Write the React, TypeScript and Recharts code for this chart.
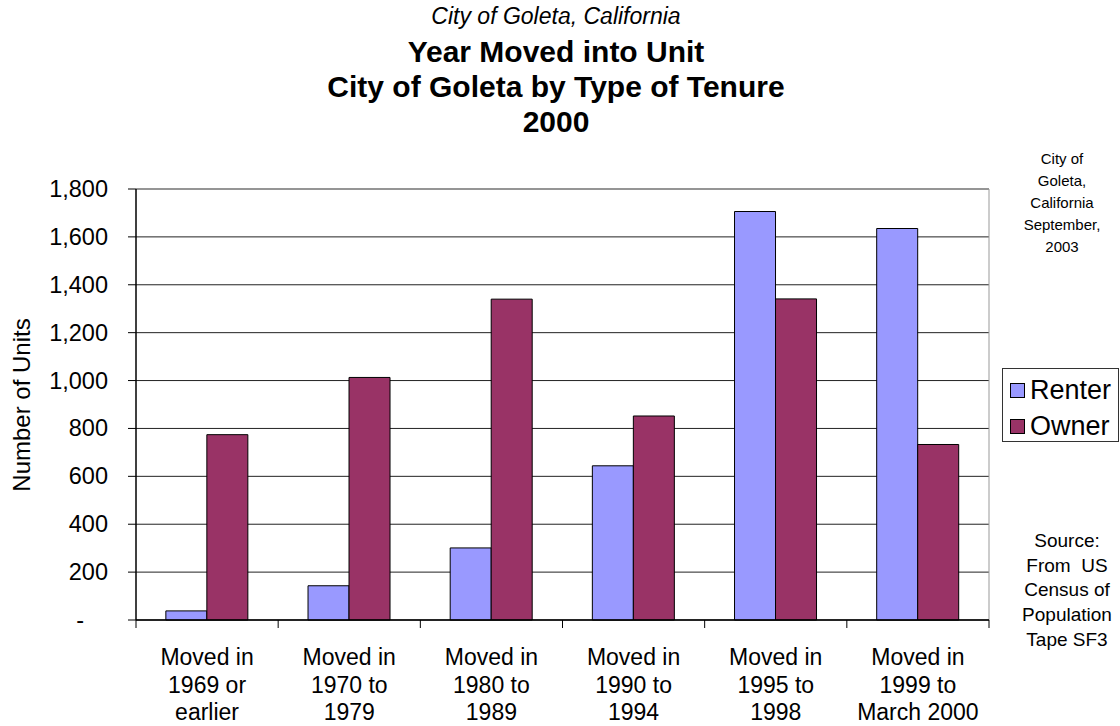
import React from 'react';
import { BarChart, Bar, XAxis, YAxis, CartesianGrid } from 'recharts';

const categories = [
  'Moved in|1969 or|earlier',
  'Moved in|1970 to|1979',
  'Moved in|1980 to|1989',
  'Moved in|1990 to|1994',
  'Moved in|1995 to|1998',
  'Moved in|1999 to|March 2000',
];
const renter = [38, 143, 301, 644, 1706, 1635];
const owner = [774, 1013, 1340, 852, 1341, 733];
const yTicks = [0, 200, 400, 600, 800, 1000, 1200, 1400, 1600, 1800];

const data = categories.map((name, i) => ({ name, Renter: renter[i], Owner: owner[i] }));

const FONT = '"Liberation Sans", Arial, sans-serif';
const RENTER = '#9999ff';
const OWNER = '#993366';

// y labels sit 28px left of the axis; tick mark drawn from the label anchor side
const YTick = ({ x, y, payload }: any) => {
  const v = payload.value as number;
  return (
    <g>
      <line x1={x + 20} x2={x + 28} y1={y} y2={y} stroke="#000" />
      <text x={v === 0 ? x - 24 : x} y={y} dy={8} textAnchor="end" fontFamily={FONT} fontSize={23.5} fill="#000">
        {v === 0 ? '-' : v.toLocaleString('en-US')}
      </text>
    </g>
  );
};

// category labels + tick marks at the category boundaries
const CatTick = ({ x, y, width, payload, index, visibleTicksCount }: any) => {
  const lines = String(payload.value).split('|');
  const band = width && visibleTicksCount ? width / visibleTicksCount : (payload.offset || 0) * 2;
  const left = x - band / 2;
  return (
    <g>
      <line x1={left} x2={left} y1={y} y2={y + 8} stroke="#000" />
      {index === visibleTicksCount - 1 && (
        <line x1={left + band} x2={left + band} y1={y} y2={y + 8} stroke="#000" />
      )}
      <text x={x} y={y} textAnchor="middle" fontFamily={FONT} fontSize={23} fill="#000">
        {lines.map((l, i) => (
          <tspan key={i} x={x} dy={i === 0 ? 45 : 27.5}>{l}</tspan>
        ))}
      </text>
    </g>
  );
};

const LegendBox = () => (
  <div style={{
    position: 'absolute', left: 1002, top: 368,
    border: '1px solid #333', background: '#fff', width: 117, height: 74, boxSizing: 'border-box',
    fontFamily: FONT, fontSize: 27, lineHeight: '36px', padding: '3px 0 0 7px',
  }}>
    {[['Renter', RENTER], ['Owner', OWNER]].map(([n, c]) => (
      <div key={n} style={{ display: 'flex', alignItems: 'center' }}>
        <span style={{ display: 'inline-block', width: 13, height: 13, background: c, border: '1.5px solid #000', marginRight: 5 }} />
        <span>{n}</span>
      </div>
    ))}
  </div>
);

export default function App() {
  return (
    <div style={{ position: 'relative', width: 1120, height: 726, background: '#fff', fontFamily: FONT }}>
      <style>{'body{margin:0}'}</style>
      <div style={{ position: 'absolute', left: 0, width: 1112, top: 3, textAlign: 'center', fontStyle: 'italic', fontSize: 23 }}>
        City of Goleta, California
      </div>
      <div style={{ position: 'absolute', left: 0, width: 1112, top: 34, textAlign: 'center', fontWeight: 'bold', fontSize: 30, lineHeight: '35px' }}>
        Year Moved into Unit<br />City of Goleta by Type of Tenure<br />2000
      </div>
      <div style={{ position: 'absolute', left: 1012, width: 100, top: 148, textAlign: 'center', fontSize: 15, lineHeight: '22px' }}>
        City of<br />Goleta,<br />California<br />September,<br />2003
      </div>
      <div style={{ position: 'absolute', left: 1012, width: 110, top: 529, textAlign: 'center', fontSize: 19, lineHeight: '24.7px' }}>
        Source:<br />From&nbsp; US<br />Census of<br />Population<br />Tape SF3
      </div>
      <div style={{
        position: 'absolute', left: 22, top: 405, transform: 'translate(-50%, -50%) rotate(-90deg)',
        whiteSpace: 'nowrap', fontSize: 24,
      }}>
        Number of Units
      </div>
      <BarChart
        width={1120}
        height={726}
        data={data}
        margin={{ top: 189, right: 131, bottom: 0, left: 0 }}
        barCategoryGap="21%"
        barGap={0}
        style={{ position: 'absolute', left: 0, top: 0 }}
      >
        <CartesianGrid vertical={false} stroke="#222" />
        <CartesianGrid
          stroke="#999"
          horizontalCoordinatesGenerator={({ offset }: any) => [offset.top]}
          verticalCoordinatesGenerator={({ offset }: any) => [offset.left + offset.width]}
        />
        <XAxis
          dataKey="name"
          height={106}
          interval={0}
          tick={<CatTick />}
          tickLine={false}
          tickSize={0}
          tickMargin={0}
          axisLine={{ stroke: '#000', strokeWidth: 1.5 }}
        />
        <YAxis
          width={136}
          domain={[0, 1800]}
          ticks={yTicks}
          interval={0}
          tick={<YTick />}
          tickLine={false}
          tickSize={0}
          tickMargin={28}
          axisLine={{ stroke: '#000', strokeWidth: 1.5 }}
        />
        <Bar dataKey="Renter" fill={RENTER} stroke="#000" strokeWidth={1} isAnimationActive={false} />
        <Bar dataKey="Owner" fill={OWNER} stroke="#000" strokeWidth={1} isAnimationActive={false} />
      </BarChart>
      <LegendBox />
    </div>
  );
}
